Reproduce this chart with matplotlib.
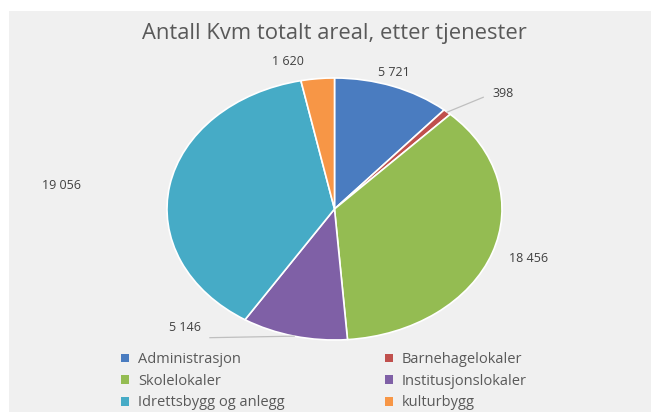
import numpy as np
import matplotlib
matplotlib.use('Agg')
import matplotlib.pyplot as plt
from matplotlib.patches import Rectangle, Patch

plt.rcParams['font.family'] = ['Open Sans', 'DejaVu Sans']

categories = ['Administrasjon', 'Barnehagelokaler', 'Skolelokaler',
              'Institusjonslokaler', 'Idrettsbygg og anlegg', 'kulturbygg']
values = [5721, 398, 18456, 5146, 19056, 1620]
value_labels = ['5 721', '398', '18 456', '5 146', '19 056', '1 620']
colors = ['#4a7cc0', '#c0504d', '#94bc52', '#7f60a6', '#46abc6', '#f79646']

# label layout: radial distance and angle shift (deg) from wedge middle
label_r = [1.10, 1.34, 1.22, 1.27, 1.64, 1.16]
label_dtheta = [1.5, -6.5, 1.7, -30.8, 4.0, 8.0]
leader = [False, True, False, True, False, False]

W, H = 651, 412
fig = plt.figure(figsize=(W / 100, H / 100), dpi=100)
fig.patch.set_facecolor('white')
fig.patches.append(Rectangle((9 / W, 0), 1, (H - 11) / H, transform=fig.transFigure,
                             facecolor='#f0f0f0', edgecolor='none', zorder=-10))

# pie area in pixels: x 167..502, y 78..340
ax = fig.add_axes([167 / W, (H - 340) / H, 335 / W, 262 / H])
ax.set_facecolor('none')
wedges, _ = ax.pie(values, colors=colors, startangle=90, counterclock=False,
                   wedgeprops=dict(edgecolor='white', linewidth=1.2))
ax.set_aspect('auto')
ax.set_xlim(-1, 1)
ax.set_ylim(-1, 1)
ax.axis('off')

for w, lab, r, dt, ld in zip(wedges, value_labels, label_r, label_dtheta, leader):
    mid = np.deg2rad((w.theta1 + w.theta2) / 2)
    ang = mid + np.deg2rad(dt)
    tx, ty = r * np.cos(ang), r * np.sin(ang)
    ax.text(tx, ty, lab, ha='center', va='center', fontsize=9, color='#404040',
            clip_on=False)
    if ld:
        ex, ey = np.cos(mid), np.sin(mid)
        if tx > 0:
            ax.plot([ex, tx - 0.12], [ey, ty - 0.03], color='#bfbfbf', lw=0.9, clip_on=False)
        else:
            ax.plot([tx + 0.15, ex], [ty - 0.08, ey], color='#bfbfbf', lw=0.9, clip_on=False)

fig.text(334 / W, 1 - 33 / H, 'Antall Kvm totalt areal, etter tjenester',
         ha='center', va='center', fontsize=15.8, color='#595959')

order = [0, 2, 4, 1, 3, 5]
handles = [Patch(facecolor=colors[i], edgecolor='none') for i in order]
labels = [categories[i] for i in order]
fig.legend(handles, labels, ncol=2, loc='upper left',
           bbox_to_anchor=(111 / W, 1 - 342 / H), frameon=False,
           fontsize=10.5, labelcolor='#595959', handlelength=0.55, handleheight=0.55,
           handletextpad=0.6, columnspacing=6.9, labelspacing=0.45,
           borderpad=0.2)

fig.savefig('out.png', dpi=100, facecolor=fig.get_facecolor())
